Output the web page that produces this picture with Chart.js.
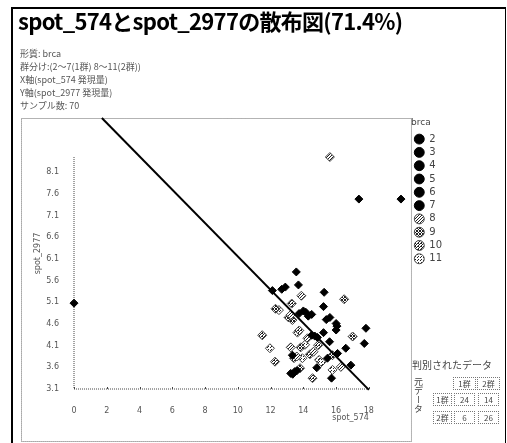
<!DOCTYPE html>
<html lang="ja">
<head>
<meta charset="utf-8">
<title>spot_574とspot_2977の散布図</title>
<script src="https://cdn.jsdelivr.net/npm/chart.js@4.4.1/dist/chart.umd.min.js"></script>
<style>
  html, body { margin: 0; padding: 0; background: #fff; }
  #wrap { position: relative; width: 507px; height: 443px; overflow: hidden; font-family: 'Noto Sans CJK JP', sans-serif; }
  #chart { position: absolute; left: 0; top: 0; }
  #frame { position: absolute; left: 11px; top: 7px; width: 492px; height: 445px; border-left: 2px solid #000; border-top: 2px solid #000; border-right: 1px solid #000; pointer-events: none; }
  #title { position: absolute; left: 18px; top: 4px; font-size: 22px; font-weight: bold; letter-spacing: -0.7px; white-space: nowrap; color: #000; }
  .info { position: absolute; left: 20px; font-size: 9px; line-height: 11px; color: #555; white-space: nowrap; }
  .cell { position: absolute; box-sizing: border-box; border: 1px dotted #777; font-size: 8px; line-height: 11px; text-align: center; color: #444; white-space: nowrap; }
  #tblHead { position: absolute; left: 412px; top: 359px; font-size: 10px; line-height: 12px; color: #444; white-space: nowrap; }
  #tblSide { position: absolute; left: 413px; top: 377px; font-size: 9px; line-height: 11px; color: #444; writing-mode: vertical-rl; }
</style>
</head>
<body>
<div id="wrap">
  <canvas id="chart" width="507" height="443"></canvas>
  <div id="frame"></div>
  <div id="title">spot_574とspot_2977の散布図(71.4%)</div>
  <div id="infoBox"></div>
  <div id="tblHead">判別されたデータ</div>
  <div id="tblSide">元データ</div>
  <div id="tblBox"></div>
</div>
<script>
// 見出しの情報
const infoLines = ['形質: brca', '群分け:(2〜7(1群) 8〜11(2群))', 'X軸(spot_574 発現量)', 'Y軸(spot_2977 発現量)', 'サンプル数: 70'];

// brca の分類 (2〜7 が1群, 8〜11 が2群)
const brcaClasses = ['2', '3', '4', '5', '6', '7', '8', '9', '10', '11'];
const group1Classes = ['2', '3', '4', '5', '6', '7'];

// 各サンプルの値
const pointX = [
  13.57, 12.11, 12.68, 13.70, 15.27, 13.74, 14.15, 14.51, 15.23, 15.62,
  16.00, 16.00, 17.82, 14.51, 14.86, 15.23, 15.60, 17.72, 13.33, 16.59,
  16.09, 15.47, 16.90, 13.23, 13.47, 14.82, 15.72, 17.39, 19.96, 0.00,
  14.00, 14.30, 13.35, 13.60, 15.40, 14.70, 12.90, 16.05,
  13.88, 16.49, 13.29, 12.51, 13.23, 13.33, 11.49, 13.64, 14.25, 17.01,
  14.90, 11.96, 13.23, 13.84, 13.43, 13.94, 14.62, 15.78, 12.27, 14.96,
  16.29, 13.80, 14.56, 15.78, 15.62, 13.10, 13.75, 14.10, 13.60, 12.30,
  14.40, 15.10
];
const pointY = [
  5.80, 5.37, 5.40, 5.50, 5.33, 4.84, 4.87, 4.82, 5.00, 4.75,
  4.61, 4.46, 4.50, 4.34, 4.29, 4.40, 4.19, 4.15, 3.88, 4.04,
  3.92, 3.81, 3.65, 3.46, 3.50, 3.59, 3.35, 7.48, 7.48, 5.08,
  4.90, 4.78, 3.44, 3.52, 4.70, 4.32, 5.45, 4.55,
  5.25, 5.17, 5.07, 4.92, 4.81, 4.69, 4.34, 4.40, 4.27, 4.31,
  4.11, 4.04, 4.06, 4.06, 3.81, 3.81, 3.96, 3.88, 3.73, 3.77,
  3.61, 3.58, 3.35, 3.54, 8.45, 4.75, 4.45, 4.12, 3.85, 4.95,
  3.90, 3.72
];
const pointClass = [
  '2', '3', '4', '5', '6', '7', '2', '3', '4', '5',
  '6', '7', '2', '3', '4', '5', '6', '7', '2', '3',
  '4', '5', '6', '7', '2', '3', '4', '5', '6', '7',
  '2', '3', '4', '5', '6', '7', '2', '3',
  '8', '9', '10', '11', '8', '9', '10', '11', '8', '9',
  '10', '11', '8', '9', '10', '11', '8', '9', '10', '11',
  '8', '9', '10', '11', '8', '9', '10', '11', '8', '9',
  '10', '11'
];

// 回帰直線の両端
const lineX = [1.7, 18];
const lineY = [9.35, 3.08];

// 目盛り
const xTicks = [0, 2, 4, 6, 8, 10, 12, 14, 16, 18];
const yTicks = [3.1, 3.6, 4.1, 4.6, 5.1, 5.6, 6.1, 6.6, 7.1, 7.6, 8.1];

// 判別表
const tableCols = ['1群', '2群'];
const tableRows = ['1群', '2群'];
const tableValues = [[24, 14], [6, 26]];

// 見出しの行
const infoBox = document.getElementById('infoBox');
infoLines.forEach((txt, i) => {
  const d = document.createElement('div');
  d.className = 'info';
  d.style.top = (48 + i * 13) + 'px';
  d.textContent = txt;
  infoBox.appendChild(d);
});

// 判別表のセル
function addCell(txt, left, top, w, h) {
  const d = document.createElement('div');
  d.className = 'cell';
  d.style.left = left + 'px';
  d.style.top = top + 'px';
  d.style.width = w + 'px';
  d.style.height = h + 'px';
  d.textContent = txt;
  document.getElementById('tblBox').appendChild(d);
}
tableCols.forEach((c, j) => addCell(c, 453 + j * 24, 377, 23, 13));
tableRows.forEach((r, i) => {
  addCell(r, 433, 393 + i * 18, 19, 13);
  tableValues[i].forEach((v, j) => addCell(String(v), 454 + j * 24, 393 + i * 18, 21, 13));
});

// 網掛けのパターン (2群用)
function makePattern(cells) {
  const c = document.createElement('canvas');
  c.width = 3; c.height = 3;
  const g = c.getContext('2d');
  g.fillStyle = '#fff';
  g.fillRect(0, 0, 3, 3);
  g.fillStyle = '#222';
  cells.forEach(p => g.fillRect(p[0], p[1], 1, 1));
  return g.createPattern(c, 'repeat');
}
const patterns = {
  '8': makePattern([[0, 0], [2, 1], [1, 2]]),
  '9': makePattern([[0, 0], [1, 1], [2, 2], [2, 0], [0, 2]]),
  '10': makePattern([[0, 0], [2, 1], [1, 2], [1, 0]]),
  '11': makePattern([[1, 1], [0, 2]])
};

// データセットを作る
const datasets = [{
  type: 'line',
  label: '回帰直線',
  data: lineX.map((x, i) => ({ x: x, y: lineY[i] })),
  borderColor: '#000',
  borderWidth: 2,
  pointRadius: 0,
  fill: false,
  clip: false
}];
brcaClasses.forEach(cls => {
  const isGroup1 = group1Classes.includes(cls);
  const pts = [];
  pointClass.forEach((c, i) => {
    if (c === cls) pts.push({ x: pointX[i], y: pointY[i] });
  });
  datasets.push({
    label: cls,
    data: pts,
    pointStyle: 'rectRot',
    pointRadius: isGroup1 ? 4 : 4.5,
    backgroundColor: isGroup1 ? '#000' : patterns[cls],
    borderColor: isGroup1 ? '#000' : '#444',
    borderWidth: 1,
    clip: false
  });
});

// 点線の軸と X軸の名前
const axisPlugin = {
  id: 'dottedAxes',
  beforeDatasetsDraw(chart) {
    const ctx = chart.ctx;
    const xs = chart.scales.x, ys = chart.scales.y;
    const x0 = xs.getPixelForValue(xTicks[0]);
    const x1 = xs.getPixelForValue(xTicks[xTicks.length - 1]);
    const y0 = ys.getPixelForValue(yTicks[0]);
    const y1 = ys.getPixelForValue(Math.max(...pointY));
    ctx.save();
    // 外側の点線枠
    ctx.strokeStyle = '#666';
    ctx.lineWidth = 1;
    ctx.setLineDash([1, 1]);
    ctx.strokeRect(21.5, chart.chartArea.top + 0.5, chart.chartArea.right - 21, 443 - chart.chartArea.top - 2);
    // 軸
    ctx.strokeStyle = '#444';
    ctx.beginPath();
    ctx.moveTo(x0, y1);
    ctx.lineTo(x0, y0);
    ctx.lineTo(x1, y0);
    ctx.stroke();
    ctx.setLineDash([]);
    xTicks.forEach(v => {
      const px = Math.round(xs.getPixelForValue(v)) + 0.5;
      ctx.beginPath();
      ctx.moveTo(px, y0);
      ctx.lineTo(px, y0 - 2);
      ctx.stroke();
    });
    ctx.fillStyle = '#555';
    ctx.font = '8px "DejaVu Sans"';
    ctx.textAlign = 'right';
    ctx.textBaseline = 'middle';
    ctx.fillText('spot_574', x1, 418);
    ctx.restore();
  }
};

const ctx = document.getElementById('chart').getContext('2d');
new Chart(ctx, {
  type: 'scatter',
  data: { datasets: datasets },
  options: {
    responsive: false,
    animation: false,
    layout: { padding: { left: 21, top: 118, right: 55, bottom: 0 } },
    scales: {
      x: {
        type: 'linear',
        min: 0,
        max: 20.57,
        grid: { display: false },
        border: { display: false },
        afterFit: scale => { scale.height = 54; },
        afterBuildTicks: scale => { scale.ticks = xTicks.map(v => ({ value: v })); },
        ticks: { padding: 9, color: '#555', font: { size: 8, family: 'DejaVu Sans' }, maxRotation: 0 }
      },
      y: {
        type: 'linear',
        min: 3.1,
        max: 9.35,
        grid: { display: false },
        border: { display: false },
        afterFit: scale => { scale.width = 53; },
        afterBuildTicks: scale => { scale.ticks = yTicks.map(v => ({ value: v })); },
        ticks: { padding: 7, color: '#555', font: { size: 8, family: 'DejaVu Sans' }, callback: v => v.toFixed(1) },
        title: { display: true, text: 'spot_2977', color: '#555', font: { size: 8, family: 'DejaVu Sans' }, padding: { top: 12, bottom: 0 } }
      }
    },
    plugins: {
      legend: {
        position: 'right',
        align: 'start',
        title: { display: true, text: 'brca', color: '#444', position: 'start', font: { size: 9, family: 'DejaVu Sans' }, padding: { top: 0, bottom: 2 } },
        labels: {
          usePointStyle: true,
          pointStyle: 'circle',
          boxHeight: 7,
          padding: 3.3,
          color: '#444',
          font: { size: 10, family: 'DejaVu Sans' },
          filter: item => brcaClasses.includes(item.text)
        }
      },
      tooltip: { enabled: false }
    }
  },
  plugins: [axisPlugin]
});
</script>
</body>
</html>
